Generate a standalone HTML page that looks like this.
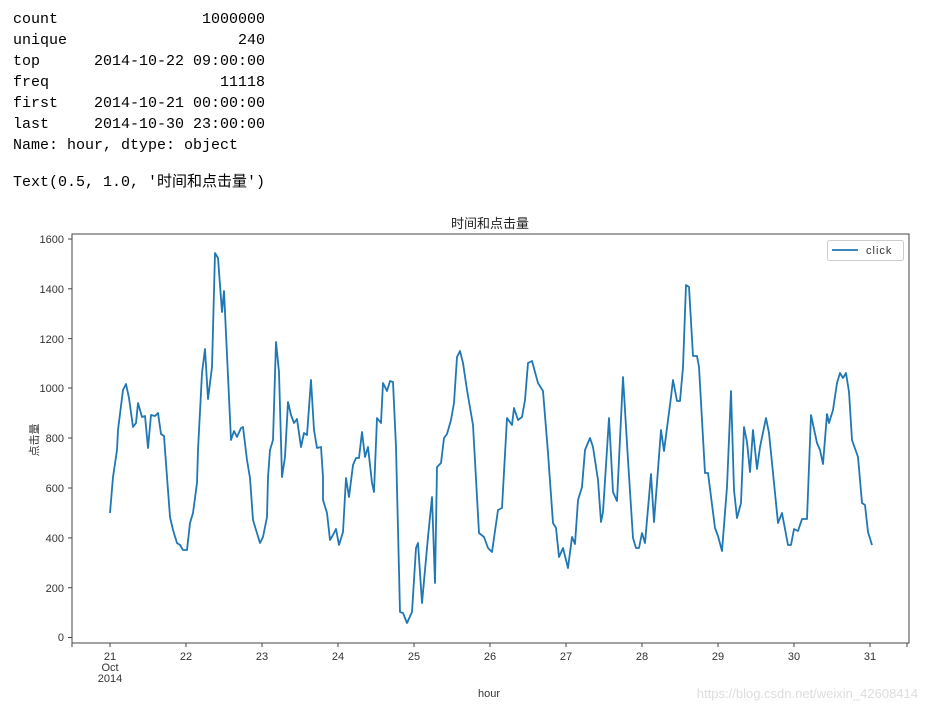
<!DOCTYPE html>
<html><head><meta charset="utf-8"><style>
body{margin:0;background:#fff;width:928px;height:713px;overflow:hidden;position:relative}
pre{position:absolute;left:13px;margin:0;font-family:"Liberation Mono","Noto Sans CJK SC",monospace;font-size:15px;line-height:21px;color:#000}
</style></head><body>
<pre style="top:9px">count                1000000
unique                   240
top      2014-10-22 09:00:00
freq                   11118
first    2014-10-21 00:00:00
last     2014-10-30 23:00:00
Name: hour, dtype: object</pre>
<pre style="top:172px">Text(0.5, 1.0, '时间和点击量')</pre>
<svg width="928" height="713" style="position:absolute;left:0;top:0" font-family="Liberation Sans, Noto Sans CJK SC, sans-serif">
<text x="490" y="228" font-size="13" text-anchor="middle" fill="#222">时间和点击量</text>
<rect x="72" y="234" width="837" height="409" fill="none" stroke="#444" stroke-width="1"/>
<g font-size="11" fill="#333" text-anchor="end">
<text x="64" y="641">0</text><text x="64" y="592">200</text><text x="64" y="542">400</text><text x="64" y="492">600</text><text x="64" y="442">800</text><text x="64" y="392">1000</text><text x="64" y="343">1200</text><text x="64" y="293">1400</text><text x="64" y="243">1600</text>
</g>
<g stroke="#444"><line x1="68" x2="72" y1="637.5" y2="637.5"/><line x1="68" x2="72" y1="587.7" y2="587.7"/><line x1="68" x2="72" y1="537.9" y2="537.9"/><line x1="68" x2="72" y1="488" y2="488"/><line x1="68" x2="72" y1="438" y2="438"/><line x1="68" x2="72" y1="388" y2="388"/><line x1="68" x2="72" y1="338.6" y2="338.6"/><line x1="68" x2="72" y1="288.8" y2="288.8"/><line x1="68" x2="72" y1="239" y2="239"/>
<line x1="110" x2="110" y1="643" y2="647"/><line x1="186" x2="186" y1="643" y2="647"/><line x1="262" x2="262" y1="643" y2="647"/><line x1="338" x2="338" y1="643" y2="647"/><line x1="414" x2="414" y1="643" y2="647"/><line x1="490" x2="490" y1="643" y2="647"/><line x1="566" x2="566" y1="643" y2="647"/><line x1="642" x2="642" y1="643" y2="647"/><line x1="718" x2="718" y1="643" y2="647"/><line x1="794" x2="794" y1="643" y2="647"/><line x1="870" x2="870" y1="643" y2="647"/>
<line x1="72" x2="72" y1="643" y2="647"/><line x1="907" x2="907" y1="643" y2="647"/></g>
<g font-size="11" fill="#333" text-anchor="middle">
<text x="110" y="660">21</text><text x="110" y="671">Oct</text><text x="110" y="682">2014</text>
<text x="186" y="660">22</text><text x="262" y="660">23</text><text x="338" y="660">24</text><text x="414" y="660">25</text><text x="490" y="660">26</text><text x="566" y="660">27</text><text x="642" y="660">28</text><text x="718" y="660">29</text><text x="794" y="660">30</text><text x="870" y="660">31</text>
</g>
<text x="489" y="697" font-size="11" text-anchor="middle" fill="#333">hour</text>
<text transform="translate(38,440) rotate(-90)" font-size="11" text-anchor="middle" fill="#333">点击量</text>
<polyline fill="none" stroke="#1f77b4" stroke-width="1.8" stroke-linejoin="round" points="110,513 113,477 117,450 118,430 123,390 126,384 129,398 133,427 136,423 138,403 142,417 145,416 148,448 151,415 155,416 158,413 161,434 164,436 165,450 170,517 173,530 177,543 180,545 183,550 187,550 190,523 193,513 197,483 198,450 202,373 205,349 208,399 212,367 215,253 218,258 222,312 224,291 231,440 234,431 237,437 241,428 243,427 247,460 250,478 253,520 260,543 263,537 267,517 268,477 270,450 273,440 276,342 279,372 282,477 285,457 288,402 291,415 294,423 297,419 301,447 304,433 307,435 311,380 314,430 317,448 321,447 323,477 323,500 327,513 330,540 333,535 336,529 339,545 343,532 346,478 349,497 353,465 356,458 359,458 362,432 365,457 368,447 372,483 374,492 377,418 381,423 383,383 387,391 390,381 393,382 396,447 400,612 403,613 407,623 412,612 416,548 418,543 422,603 428,537 432,497 435,583 437,467 441,463 444,438 447,434 451,420 454,403 457,357 460,351 463,363 467,390 473,425 479,533 484,537 488,548 492,552 498,510 502,508 507,418 512,425 514,408 518,420 522,417 525,400 528,363 532,361 538,383 543,391 548,453 553,523 556,528 559,557 563,548 568,568 572,537 575,544 578,500 582,487 585,450 590,438 593,447 598,480 601,522 603,512 609,418 613,492 617,501 623,377 628,460 633,538 636,548 639,548 642,533 645,543 651,474 654,522 661,430 664,451 671,397 673,380 677,401 680,401 683,367 686,285 689,287 693,356 697,356 699,367 705,473 708,473 715,528 718,536 722,551 727,487 731,391 734,490 737,518 741,503 744,427 747,442 750,472 753,430 757,469 760,447 766,418 769,433 778,523 782,513 788,545 791,545 794,529 798,531 802,519 807,519 811,415 817,443 820,450 823,464 827,414 829,423 833,410 837,383 840,373 843,378 846,373 849,392 852,440 858,457 862,503 865,505 868,532 872,545"/>
<rect x="827.5" y="240.5" width="76" height="20" rx="2" fill="#fff" stroke="#ccc"/>
<line x1="832" x2="858" y1="250" y2="250" stroke="#1f77b4" stroke-width="1.8"/>
<text x="866" y="254" font-size="11" fill="#333" letter-spacing="1">click</text>
<text x="918" y="698" font-size="13" text-anchor="end" fill="#ddd">https://blog.csdn.net/weixin_42608414</text>
</svg>
</body></html>
